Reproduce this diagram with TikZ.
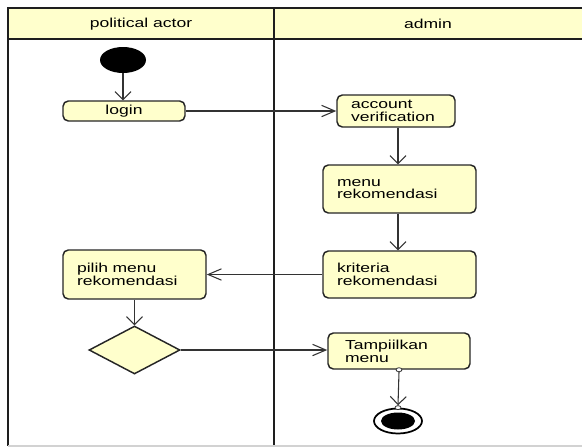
\documentclass[tikz,border=0pt]{standalone}
\usepackage{fontspec}
\setmainfont{Liberation Sans}[FakeStretch=1.35]
\usetikzlibrary{arrows.meta,shapes.geometric}
\definecolor{umlfill}{HTML}{FFFFCC}
\definecolor{laneline}{HTML}{1E1E1E}
\begin{document}
\begin{tikzpicture}[x=0.75pt,y=-0.75pt,
  font=\fontsize{9.75}{9.6}\selectfont,
  lane/.style={draw=laneline, line width=2.2pt},
  act/.style={draw=black!85, line width=1.1pt, fill=umlfill, rounded corners=4pt,
    align=left, inner ysep=0pt, inner xsep=10.5pt},
  conn/.style={draw=black!80, line width=0.8pt},
  harr/.style={conn, -{Straight Barb[length=10pt,width=8.5pt]}},
  varr/.style={conn, -{Straight Barb[length=6pt,width=12pt]}},
  pin/.style={ellipse, draw=black!80, line width=0.6pt, fill=white, minimum width=4.5pt, minimum height=3pt, inner sep=0pt}
]
\useasboundingbox (0,0) rectangle (582,447);
% header and lanes
\fill[umlfill] (8,8) rectangle (582,39);
\draw[lane] (7,8) -- (582,8);
\draw[lane] (7,39) -- (582,39);
\draw[lane] (8,7) -- (8,446);
\draw[lane] (274,7) -- (274,446);
\draw[gray!35, line width=0.8pt] (8,446) -- (582,446);
\node (hpa) at (141,24) {political actor};
\node (had) at (428,24) {admin};
% initial state
\node[ellipse, fill=black, minimum width=34.5pt, minimum height=19.5pt, inner sep=0pt] (init) at (123,60) {};
% activities
\node[act, align=center, text width=70.5pt, minimum height=15pt] (login) at (124,111) {login};
\node[act, text width=67.5pt, minimum height=24pt] (acc) at (396,111) {account\\verification};
\node[act, text width=93.75pt, minimum height=36pt] (menu) at (399.5,189) {menu\\rekomendasi};
\node[act, text width=93.75pt, minimum height=35.25pt] (krit) at (399.5,274.5) {kriteria\\rekomendasi};
\node[act, text width=86.25pt, minimum height=36.75pt] (pilih) at (134.5,274.5) {pilih menu\\rekomendasi};
\node[act, inner xsep=12.75pt, text width=81pt, minimum height=27pt] (tamp) at (399,351) {Tampiilkan\\menu};
\node[diamond, draw=black!85, line width=1.1pt, fill=umlfill, minimum width=68.25pt, minimum height=36pt, inner sep=0pt] (dec) at (134.5,350) {};
% final state
\node[ellipse, draw=black, line width=1.3pt, fill=white, minimum width=36pt, minimum height=18.75pt, inner sep=0pt] (fin) at (398,421) {};
\node[ellipse, fill=black, minimum width=25.5pt, minimum height=12.75pt, inner sep=0pt] (finc) at (fin.center) {};
\node[pin] (tout) at (tamp.south) {};
\node[pin] (fint) at (fin.north) {};
% connectors
\draw[varr] (init.south) -- (init.south |- login.north);
\draw[harr] (login.east) -- (acc.west);
\draw[varr] (acc.south -| 398,0) -- (398,0 |- menu.north);
\draw[varr] (menu.south -| 398,0) -- (398,0 |- krit.north);
\draw[harr] (krit.west) -- (pilih.east);
\draw[varr] (pilih.south) -- (dec.north);
\draw[harr] (dec.east) -- (dec.east -| tamp.west);
\draw[varr] (tout.south) -- (fint.north);
\end{tikzpicture}
\end{document}
